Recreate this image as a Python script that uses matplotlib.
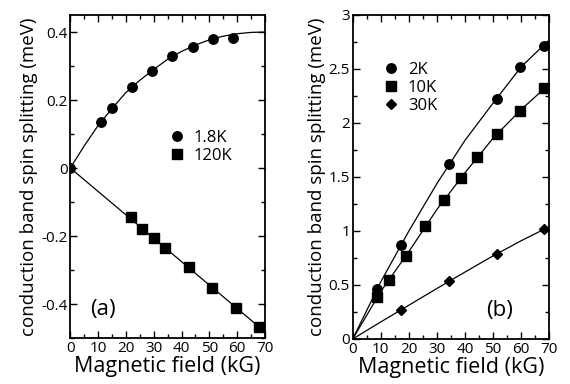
import matplotlib
matplotlib.use("Agg")
import matplotlib.pyplot as plt
from matplotlib.ticker import MultipleLocator, FuncFormatter

plt.rcParams['font.family'] = ['Open Sans', 'DejaVu Sans']

# panel (a): measured points
a_circ_x = [0, 11.0, 14.9, 22.2, 29.5, 36.6, 44.0, 51.3, 58.4]
a_circ_y = [0, 0.134, 0.178, 0.237, 0.286, 0.330, 0.356, 0.379, 0.383]
a_sq_x = [21.7, 25.9, 30.0, 34.2, 42.7, 51.0, 59.4, 67.9]
a_sq_y = [-0.144, -0.179, -0.206, -0.235, -0.292, -0.353, -0.411, -0.469]

# panel (a): fit curves
a_fit_x = [0, 5, 10, 15, 20, 25, 30, 35, 40, 45, 50, 55, 60, 65, 70]
a_fit_up = [0, 0.065, 0.125, 0.175, 0.222, 0.258, 0.29, 0.32, 0.343,
            0.362, 0.377, 0.388, 0.395, 0.399, 0.4]
a_line_x = [0, 70]
a_line_y = [0, -0.482]

# panel (b): measured points
b_circ_x = [8.6, 17.2, 34.3, 51.2, 59.5, 68.1]
b_circ_y = [0.46, 0.87, 1.62, 2.225, 2.515, 2.715]
b_sq_x = [8.8, 12.8, 19.0, 25.7, 32.4, 38.4, 44.3, 51.2, 59.5, 68.1]
b_sq_y = [0.386, 0.549, 0.771, 1.043, 1.287, 1.488, 1.688, 1.895, 2.114, 2.321]
b_dia_x = [17.3, 34.3, 51.2, 68.1]
b_dia_y = [0.271, 0.534, 0.787, 1.016]

# panel (b): fit curves
b_fit_x = [0, 10, 20, 30, 40, 50, 60, 70]
b_fit_circ = [0, 0.53, 1.0, 1.44, 1.84, 2.185, 2.52, 2.77]
b_fit_sq = [0, 0.44, 0.81, 1.2, 1.54, 1.86, 2.125, 2.36]
b_fit_dia = [0, 0.158, 0.313, 0.468, 0.62, 0.77, 0.91, 1.04]

a_labels = ['1.8K', '120K']
b_labels = ['2K', '10K', '30K']

fig = plt.figure(figsize=(5.7, 3.84), dpi=100)
ax1 = fig.add_axes([0.1233, 0.1198, 0.3416, 0.841])
ax2 = fig.add_axes([0.6188, 0.1172, 0.3449, 0.8438])

ms = 6.8
lw = 0.9


def tick_fmt(v, pos):
    if abs(v) < 1e-9:
        return '0'
    return f'{v:g}'


def style_axes(ax):
    ax.set_xlim(0, 70)
    ax.xaxis.set_major_locator(MultipleLocator(10))
    ax.xaxis.set_minor_locator(MultipleLocator(5))
    ax.yaxis.set_major_formatter(FuncFormatter(tick_fmt))
    ax.tick_params(which='both', direction='in', top=True, right=True,
                   labelsize=11, width=1)
    ax.tick_params(which='major', length=5, pad=2)
    ax.tick_params(which='minor', length=3)
    for sp in ax.spines.values():
        sp.set_linewidth(1.3)
    ax.set_xlabel('Magnetic field (kG)', fontsize=15.5, labelpad=0)
    ax.set_ylabel('conduction band spin splitting (meV)', fontsize=13.5, labelpad=2)


# (a)
ax1.plot(a_fit_x, a_fit_up, color='black', lw=lw)
ax1.plot(a_line_x, a_line_y, color='black', lw=lw)
ax1.plot(a_circ_x, a_circ_y, 'o', color='black', ms=ms, label=a_labels[0])
ax1.plot(a_sq_x, a_sq_y, 's', color='black', ms=ms, label=a_labels[1])
style_axes(ax1)
ax1.set_ylim(-0.5, 0.45)
ax1.yaxis.set_major_locator(MultipleLocator(0.2))
ax1.yaxis.set_minor_locator(MultipleLocator(0.1))
ax1.legend(loc='upper left', bbox_to_anchor=(0.47, 0.67), frameon=False,
           handlelength=0.8, handletextpad=0.6, labelspacing=0.1,
           fontsize=12, borderpad=0)
ax1.text(0.1, 0.07, '(a)', transform=ax1.transAxes, fontsize=16)

# (b)
ax2.plot(b_fit_x, b_fit_circ, color='black', lw=lw)
ax2.plot(b_fit_x, b_fit_sq, color='black', lw=lw)
ax2.plot(b_fit_x, b_fit_dia, color='black', lw=lw)
ax2.plot(b_circ_x, b_circ_y, 'o', color='black', ms=ms, label=b_labels[0])
ax2.plot(b_sq_x, b_sq_y, 's', color='black', ms=ms, label=b_labels[1])
ax2.plot(b_dia_x, b_dia_y, 'D', color='black', ms=5.3, label=b_labels[2])
style_axes(ax2)
ax2.set_ylim(0, 3)
ax2.yaxis.set_major_locator(MultipleLocator(0.5))
ax2.yaxis.set_minor_locator(MultipleLocator(0.25))
ax2.legend(loc='upper left', bbox_to_anchor=(0.12, 0.88), frameon=False,
           handlelength=0.8, handletextpad=0.6, labelspacing=0.1,
           fontsize=12, borderpad=0)
ax2.text(0.68, 0.07, '(b)', transform=ax2.transAxes, fontsize=16)

fig.savefig('out.png', dpi=100)
